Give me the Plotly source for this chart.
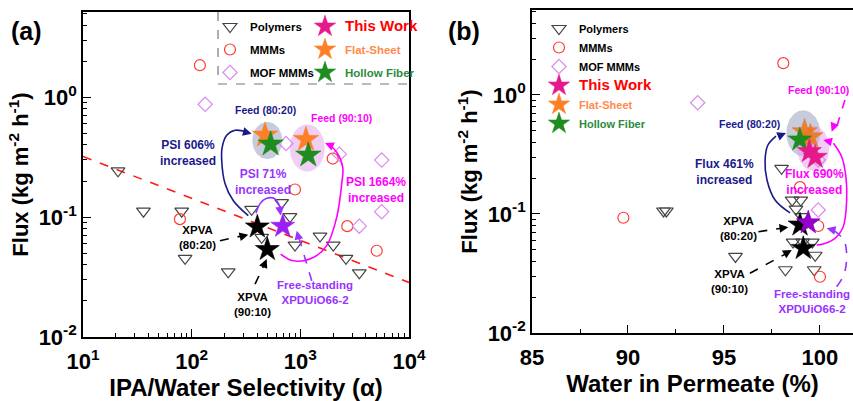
import numpy as np
import plotly.graph_objects as go

FONT = "Liberation Sans"
W, H = 853, 401

# ---------------- Panel (a): IPA/Water selectivity vs. flux ----------------
poly_a_sel = [21, 36, 81, 87, 217, 356, 441, 673, 803, 893, 1518, 2010, 2631, 3490]
poly_a_flux = [0.243, 0.112, 0.112, 0.0453, 0.035, 0.116, 0.0678, 0.132, 0.101, 0.0585, 0.0695, 0.0585, 0.0453, 0.0343]
mmm_a_sel = [119, 1986, 893, 78, 2704, 5047]
mmm_a_flux = [1.85, 0.308, 0.170, 0.0962, 0.0841, 0.0524]
mof_a_sel = [133, 738, 2286, 5607, 5607, 3490]
mof_a_flux = [0.874, 0.411, 0.335, 0.299, 0.111, 0.0841]
xpva_a_sel = [402, 497]
xpva_a_flux = [0.083, 0.0538]
xpdu_a_sel = [689]
xpdu_a_flux = [0.0841]
flat_a_sel = [473, 1127]
flat_a_flux = [0.482, 0.444]
hollow_a_sel = [533, 1183]
hollow_a_flux = [0.406, 0.329]
tradeoff_sel = [10, 10000]
tradeoff_flux = [0.321, 0.0285]

# ---------------- Panel (b): water in permeate vs. flux ----------------
poly_b_water = [91.85, 92.0, 98.0, 95.6, 98.2, 99.7, 99.75, 98.55, 99.0, 98.75, 99.05, 98.6, 99.1, 99.6]
poly_b_flux = [0.106, 0.106, 0.242, 0.044, 0.034, 0.034, 0.045, 0.131, 0.131, 0.11, 0.095, 0.058, 0.058, 0.058]
mmm_b_water = [98.09, 89.76, 98.96, 99.91, 100.0]
mmm_b_flux = [1.85, 0.093, 0.168, 0.0793, 0.0297]
mof_b_water = [93.63, 99.91, 99.91]
mof_b_flux = [0.861, 0.284, 0.108]
xpva_b_water = [98.96, 99.13]
xpva_b_flux = [0.081, 0.0515]
xpdu_b_water = [99.39]
xpdu_b_flux = [0.0845]
flat_b_water = [99.2, 99.5]
flat_b_flux = [0.49, 0.445]
hollow_b_water = [98.95]
hollow_b_flux = [0.42]
this_b_water = [99.45, 99.75]
this_b_flux = [0.335, 0.30]

# tick labels
sel_ticks = [10, 100, 1000, 10000]
sel_ticktext = ["10<sup>1</sup>", "10<sup>2</sup>", "10<sup>3</sup>", "10<sup>4</sup>"]
flux_ticks = [0.01, 0.1, 1]
flux_ticktext = ["10<sup>-2</sup>", "10<sup>-1</sup>", "10<sup>0</sup>"]
water_ticks = [85, 90, 95, 100]
water_ticktext = ["85", "90", "95", "100"]

# ---------------- guide curves / arrows (data coordinates) ----------------
# panel (a)
curve_a_navy = ([332, 242, 203, 189, 191, 210, 251, 321], [0.103, 0.137, 0.190, 0.297, 0.384, 0.481, 0.530, 0.513])
tip_a_navy = (357, 0.497, -8, -2)
curve_a_purple = ([391, 425, 490, 585, 650], [0.1076, 0.129, 0.1437, 0.142, 0.121])
tip_a_purple = (660, 0.103, -1, -8)
curve_a_mag = ([659, 861, 1315, 1748, 2161, 2404, 2455, 2161, 1876], [0.0492, 0.0432, 0.0461, 0.0578, 0.0996, 0.190, 0.261, 0.348, 0.397])
tip_a_mag = (1687, 0.415, 7, 3)
dash_a_xpva1 = ([182, 320], [0.0636, 0.0710])
tip_a_xpva1 = (332, 0.0714, -8, 2)
dash_a_xpva2 = ([383, 475], [0.0276, 0.0420])
tip_a_xpva2 = (490, 0.0447, -3, 7)
dash_a_free = ([1274, 950], [0.0294, 0.0720])
tip_a_free = (927, 0.0771, 2, 8)
# panel (b)
curve_b_navy = ([98.44, 97.66, 97.24, 97.14, 97.29, 97.71], [0.102, 0.131, 0.193, 0.284, 0.380, 0.452])
tip_b_navy = (98.23, 0.480, -7, 3)
curve_b_mag = ([99.83, 100.17, 100.78, 101.21, 101.39, 101.35, 101.13, 100.70], [0.0549, 0.056, 0.0625, 0.0782, 0.131, 0.206, 0.303, 0.393])
tip_b_mag = (100.17, 0.419, 8, 2)
dash_b_xpva1 = ([96.79, 98.2], [0.071, 0.0768])
tip_b_xpva1 = (98.35, 0.0773, -8, 1)
dash_b_xpva2 = ([96.35, 98.35], [0.0318, 0.0475])
tip_b_xpva2 = (98.53, 0.0498, -7, 4)
dash_b_feed = ([101.30, 100.9], [0.908, 0.56])
tip_b_feed = (100.61, 0.492, 3, -8)
dash_b_free = ([100.87, 101.25, 101.39, 101.25, 100.75], [0.0245, 0.031, 0.0438, 0.060, 0.072])
tip_b_free = (100.35, 0.0758, 8, 2)

# highlight ellipses: centre (x, y), half-axes (x in decades or units, y in decades)
ell_a_8020 = (497, 0.436, 0.138, 0.155)
ell_a_9010 = (1159, 0.377, 0.161, 0.197)
ell_b_8020 = (99.13, 0.477, 0.885, 0.193)
ell_b_9010 = (99.65, 0.356, 0.833, 0.189)

NAVY = "#1a1a8c"
MAG = "#FF00FF"
PURP = "#9933FF"
ORANGE = "#FF7F27"
GREEN = "#1E8C1E"
PINK = "#E6198C"

fig = go.Figure()


def ellipse(xc, yc, rx, ry, xlog, color, xa, ya):
    t = np.linspace(0, 2 * np.pi, 80)
    if xlog:
        xs = 10 ** (np.log10(xc) + rx * np.cos(t))
    else:
        xs = xc + rx * np.cos(t)
    ys = 10 ** (np.log10(yc) + ry * np.sin(t))
    fig.add_trace(go.Scatter(x=xs, y=ys, mode="lines", fill="toself", fillcolor=color,
                             line=dict(width=0), hoverinfo="skip", showlegend=False,
                             xaxis=xa, yaxis=ya))


ellipse(*ell_a_8020, True, "rgba(130,140,175,0.45)", "x", "y")
ellipse(*ell_a_9010, True, "rgba(225,160,235,0.5)", "x", "y")
ellipse(*ell_b_8020, False, "rgba(130,140,175,0.45)", "x2", "y2")
ellipse(*ell_b_9010, False, "rgba(225,160,235,0.5)", "x2", "y2")

# trade-off line
fig.add_trace(go.Scatter(x=tradeoff_sel, y=tradeoff_flux, mode="lines",
                         line=dict(color="#FF1A1A", width=1.6, dash="dash"),
                         showlegend=False, xaxis="x", yaxis="y"))

tri = dict(symbol="triangle-down-open", size=12, color="#444444", line=dict(width=1.2))
cir = dict(symbol="circle-open", size=11, color="#FF3B30", line=dict(width=1.2))
dia = dict(symbol="diamond-open", size=11, color="#D98BF0", line=dict(width=1.2))


def pts(x, y, marker, xa, ya, name=None, legend=None, group=None):
    fig.add_trace(go.Scatter(x=x, y=y, mode="markers", marker=marker, name=name,
                             showlegend=legend is not None, legend=legend or "legend",
                             legendgroup=group, xaxis=xa, yaxis=ya))


# panel (a) markers
pts(poly_a_sel, poly_a_flux, tri, "x", "y", "Polymers", "legend", "a1")
pts(mmm_a_sel, mmm_a_flux, cir, "x", "y", "MMMs", "legend", "a2")
pts(mof_a_sel, mof_a_flux, dia, "x", "y", "MOF MMMs", "legend", "a3")
# panel (b) markers
pts(poly_b_water, poly_b_flux, tri, "x2", "y2", "Polymers", "legend3", "b1")
pts(mmm_b_water, mmm_b_flux, cir, "x2", "y2", "MMMs", "legend3", "b2")
pts(mof_b_water, mof_b_flux, dia, "x2", "y2", "MOF MMMs", "legend3", "b3")


def curve(xy, color, xa, ya, dash="solid", shape="spline"):
    fig.add_trace(go.Scatter(x=xy[0], y=xy[1], mode="lines",
                             line=dict(color=color, width=1.6, dash=dash, shape=shape, smoothing=1.0),
                             showlegend=False, hoverinfo="skip", xaxis=xa, yaxis=ya))


curve(curve_a_navy, NAVY, "x", "y")
curve(curve_a_purple, PURP, "x", "y")
curve(curve_a_mag, MAG, "x", "y")
curve(dash_a_xpva1, "black", "x", "y", "dash", "linear")
curve(dash_a_xpva2, "black", "x", "y", "dash", "linear")
curve(dash_a_free, PURP, "x", "y", "dash", "linear")
curve(curve_b_navy, NAVY, "x2", "y2")
curve(curve_b_mag, MAG, "x2", "y2")
curve(dash_b_xpva1, "black", "x2", "y2", "dash", "linear")
curve(dash_b_xpva2, "black", "x2", "y2", "dash", "linear")
curve(dash_b_feed, MAG, "x2", "y2", "dash", "linear")
curve(dash_b_free, PURP, "x2", "y2", "dash", "spline")

star = lambda c, s: dict(symbol="star", size=s, color=c, line=dict(width=0.6, color=c))

# stars panel (a)
pts(xpva_a_sel, xpva_a_flux, star("black", 18), "x", "y")
pts(xpdu_a_sel, xpdu_a_flux, star("#9B1FF0", 18), "x", "y")
pts([None], [None], star(PINK, 17), "x", "y",
    "<span style='color:#FF0000;font-size:15px'>This Work</span>", "legend2", "c1")
pts(flat_a_sel, flat_a_flux, star(ORANGE, 19), "x", "y",
    "<span style='color:#FF8A4C'>Flat-Sheet</span>", "legend2", "c2")
pts(hollow_a_sel, hollow_a_flux, star(GREEN, 19), "x", "y",
    "<span style='color:#2E8B3E'>Hollow Fiber</span>", "legend2", "c3")
# stars panel (b)
pts(xpva_b_water, xpva_b_flux, star("black", 18), "x2", "y2")
pts(flat_b_water, flat_b_flux, star("rgba(235,120,30,0.9)", 19), "x2", "y2")
pts(hollow_b_water, hollow_b_flux, star(GREEN, 18), "x2", "y2")
pts(this_b_water, this_b_flux, star(PINK, 18), "x2", "y2")
pts(xpdu_b_water, xpdu_b_flux, star("#9400C8", 18), "x2", "y2")
# legend-only entries for panel (b)
pts([None], [None], star(PINK, 17), "x2", "y2",
    "<span style='color:#FF0000;font-size:15px'>This Work</span>", "legend3", "b4")
pts([None], [None], star(ORANGE, 17), "x2", "y2",
    "<span style='color:#FF8A4C'>Flat-Sheet</span>", "legend3", "b5")
pts([None], [None], star(GREEN, 17), "x2", "y2",
    "<span style='color:#2E8B3E'>Hollow Fiber</span>", "legend3", "b6")

# arrow heads
def head(tip, color, xa, ya, xlog):
    x, y, axp, ayp = tip
    fig.add_annotation(x=np.log10(x) if xlog else x, y=np.log10(y), xref=xa, yref=ya,
                       ax=axp, ay=ayp, axref="pixel", ayref="pixel", text="",
                       showarrow=True, arrowhead=2, arrowsize=1.1, arrowwidth=1.6,
                       arrowcolor=color)


head(tip_a_navy, NAVY, "x", "y", True)
head(tip_a_purple, PURP, "x", "y", True)
head(tip_a_mag, MAG, "x", "y", True)
head(tip_a_xpva1, "black", "x", "y", True)
head(tip_a_xpva2, "black", "x", "y", True)
head(tip_a_free, PURP, "x", "y", True)
head(tip_b_navy, NAVY, "x2", "y2", False)
head(tip_b_mag, MAG, "x2", "y2", False)
head(tip_b_xpva1, "black", "x2", "y2", False)
head(tip_b_xpva2, "black", "x2", "y2", False)
head(tip_b_feed, MAG, "x2", "y2", False)
head(tip_b_free, PURP, "x2", "y2", False)


def label(text, x, y, color, xa, ya, xlog, size=11, xanchor="center"):
    fig.add_annotation(x=np.log10(x) if xlog else x, y=np.log10(y), xref=xa, yref=ya,
                       text=text, showarrow=False, xanchor=xanchor,
                       font=dict(family=FONT, size=size, color=color, weight="bold"))


label("Feed (80:20)", 473, 0.778, NAVY, "x", "y", True, 10.5)
label("Feed (90:10)", 2404, 0.667, MAG, "x", "y", True, 10.5)
label("PSI 606%<br>increased", 92.5, 0.34, NAVY, "x", "y", True, 12)
label("PSI 71%<br>increased", 453, 0.195, PURP, "x", "y", True, 12)
label("PSI 1664%<br>increased", 4966, 0.167, MAG, "x", "y", True, 12)
label("XPVA<br>(80:20)", 114, 0.067, "black", "x", "y", True, 11.5)
label("XPVA<br>(90:10)", 365, 0.0185, "black", "x", "y", True, 11.5)
label("Free-standing<br>XPDUiO66-2", 1365, 0.0235, PURP, "x", "y", True, 11.5)

label("Feed (80:20)", 96.35, 0.57, NAVY, "x2", "y2", False, 10.5)
label("Feed (90:10)", 101.62, 1.10, MAG, "x2", "y2", False, 10.5, "right")
label("Flux 461%<br>increased", 95.05, 0.226, NAVY, "x2", "y2", False, 12)
label("Flux 690%<br>increased", 99.74, 0.187, MAG, "x2", "y2", False, 12)
label("XPVA<br>(80:20)", 95.74, 0.0759, "black", "x2", "y2", False, 11.5)
label("XPVA<br>(90:10)", 95.31, 0.027, "black", "x2", "y2", False, 11.5)
label("Free-standing<br>XPDUiO66-2", 99.57, 0.0183, PURP, "x2", "y2", False, 11.5)

# panel letters
for txt, px in (("(a)", 26), ("(b)", 464)):
    fig.add_annotation(x=px / W, y=1 - 31 / H, xref="paper", yref="paper", text=txt,
                       xanchor="center", yanchor="middle", showarrow=False,
                       font=dict(family=FONT, size=25, color="black", weight="bold"))

# dashed legend box of panel (a)
fig.add_shape(type="line", xref="paper", yref="paper", x0=218 / W, x1=218 / W,
              y0=1 - 12 / H, y1=1 - 84 / H, line=dict(color="#777777", width=1.2, dash="dash"))
fig.add_shape(type="line", xref="paper", yref="paper", x0=218 / W, x1=409 / W,
              y0=1 - 84 / H, y1=1 - 84 / H, line=dict(color="#777777", width=1.2, dash="dash"))

tfont = dict(family=FONT, size=22, color="black", weight="bold")
base = dict(showline=True, linecolor="black", linewidth=1.6, mirror=True, ticks="inside",
            ticklen=8, tickwidth=1.3, tickcolor="black", showgrid=False, zeroline=False,
            tickfont=tfont, tickmode="array", automargin=False)
minor_log_x = [m * 10 ** e for e in (1, 2, 3) for m in range(2, 10)]
minor_log_y = [m * 10 ** e for e in (-2, -1) for m in range(2, 10)] + [2, 3, 4, 5]
minor = lambda v: dict(tickmode="array", tickvals=v, ticks="inside", ticklen=4,
                       tickwidth=1.1, tickcolor="black", showgrid=False)
title_font = dict(family=FONT, size=24, color="black", weight="bold")
ytitle_font = dict(family=FONT, size=22, color="black", weight="bold")

fig.update_layout(
    width=W, height=H, margin=dict(l=0, r=0, t=0, b=0, autoexpand=False),
    paper_bgcolor="white", plot_bgcolor="white",
    xaxis=dict(base, type="log", range=[1, 4], domain=[83 / W, 409 / W], anchor="y",
               tickvals=sel_ticks, ticktext=sel_ticktext, minor=minor(minor_log_x),
               ticklabelstandoff=4,
               title=dict(text="IPA/Water Selectivity (α)", font=title_font, standoff=4)),
    yaxis=dict(base, type="log", range=[-2, 0.711], domain=[1 - 337 / H, 1 - 12 / H], anchor="x",
               tickvals=flux_ticks, ticktext=flux_ticktext, minor=minor(minor_log_y),
               title=dict(text="Flux (kg m<sup>-2</sup> h<sup>-1</sup>)", font=ytitle_font, standoff=4)),
    xaxis2=dict(base, type="linear", range=[85, 101.72], domain=[532 / W, 1], anchor="y2",
                tickvals=water_ticks, ticktext=water_ticktext, minor=minor([87.5, 92.5, 97.5]),
                ticklabelstandoff=4,
                title=dict(text="Water in Permeate (%)", font=title_font, standoff=4)),
    yaxis2=dict(base, type="log", range=[-2, 0.714], domain=[1 - 333 / H, 1 - 10 / H], anchor="x2",
                tickvals=flux_ticks, ticktext=flux_ticktext, minor=minor(minor_log_y),
                title=dict(text="Flux (kg m<sup>-2</sup> h<sup>-1</sup>)", font=ytitle_font, standoff=4)),
    legend=dict(x=210 / W, y=1 - 12 / H, xanchor="left", yanchor="top", bgcolor="rgba(0,0,0,0)",
                font=dict(family=FONT, size=11.5, color="black", weight="bold"),
                traceorder="grouped", tracegroupgap=4),
    legend2=dict(x=305 / W, y=1 - 12 / H, xanchor="left", yanchor="top", bgcolor="rgba(0,0,0,0)",
                 font=dict(family=FONT, size=11.5, color="black", weight="bold"),
                 traceorder="grouped", tracegroupgap=4),
    legend3=dict(x=539 / W, y=1 - 14 / H, xanchor="left", yanchor="top", bgcolor="rgba(0,0,0,0)",
                 font=dict(family=FONT, size=11, color="black", weight="bold"),
                 traceorder="grouped", tracegroupgap=0),
    showlegend=True,
)

fig.write_html("out.html")
